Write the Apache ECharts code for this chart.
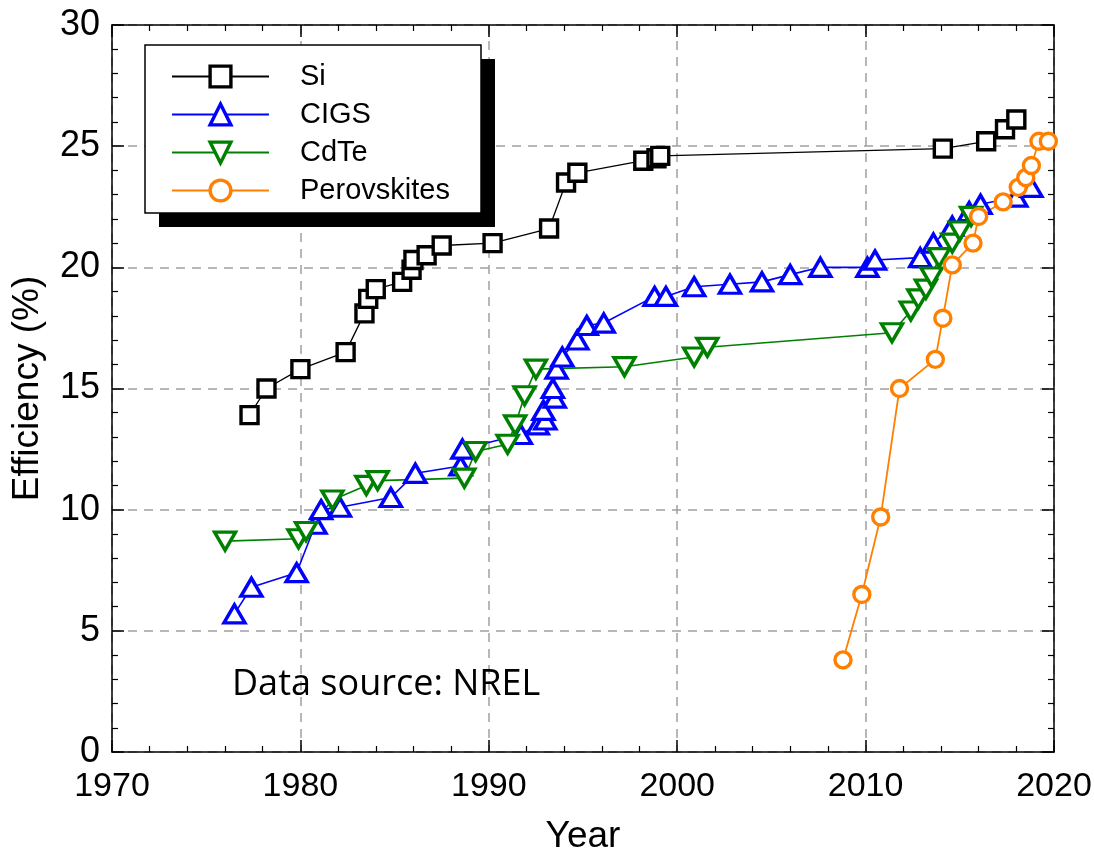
<!DOCTYPE html>
<html>
<head>
<meta charset="utf-8">
<script src="https://cdn.jsdelivr.net/npm/echarts@6/dist/echarts.min.js"></script>
<style>html,body{margin:0;padding:0;background:#fff}#c{width:1094px;height:852px}</style>
</head>
<body>
<div id="c"></div>
<script>
const seriesNames = ['Si', 'CIGS', 'CdTe', 'Perovskites'];
const siYear = [1977.3,1978.2,1980.0,1982.4,1983.4,1983.6,1984.0,1985.4,1985.9,1986.0,1986.7,1987.5,1990.2,1993.2,1994.1,1994.7,1998.2,1998.9,1999.1,2014.1,2016.4,2017.4,2018.0];
const siEff  = [13.9,15.0,15.8,16.5,18.1,18.7,19.1,19.4,19.9,20.3,20.5,20.9,21.0,21.6,23.5,23.9,24.4,24.5,24.6,24.9,25.2,25.7,26.1];
const cigsYear = [1976.5,1977.4,1979.8,1980.8,1981.1,1982.1,1984.8,1986.1,1988.5,1988.6,1991.7,1992.6,1993.0,1992.9,1993.5,1993.4,1993.6,1993.9,1994.7,1995.2,1996.1,1998.8,1999.4,2000.9,2002.8,2004.5,2006.0,2007.6,2010.1,2010.5,2012.9,2013.6,2014.6,2015.5,2016.1,2018.0,2018.8];
const cigsEff  = [5.7,6.8,7.4,9.4,10.0,10.1,10.5,11.5,11.8,12.5,13.1,13.5,13.7,14.1,14.6,15.0,15.8,16.3,17.0,17.6,17.7,18.8,18.8,19.2,19.3,19.4,19.7,20.0,20.0,20.3,20.4,21.0,21.7,22.3,22.6,22.9,23.3];
const cdteYear = [1976.0,1979.9,1980.3,1981.7,1983.5,1984.1,1988.7,1989.3,1991.0,1991.4,1991.9,1992.5,1997.2,2000.9,2001.6,2011.4,2012.4,2012.8,2013.2,2013.5,2013.9,2014.6,2015.0,2015.6];
const cdteEff  = [8.7,8.8,9.1,10.4,11.0,11.2,11.3,12.4,12.7,13.5,14.7,15.8,15.9,16.3,16.7,17.3,18.2,18.7,19.1,19.6,20.4,21.0,21.5,22.1];
const perYear = [2008.8,2009.8,2010.8,2011.8,2013.7,2014.1,2014.6,2015.7,2016.0,2017.3,2018.1,2018.5,2018.8,2019.2,2019.7];
const perEff  = [3.8,6.5,9.7,15.0,16.2,17.9,20.1,21.0,22.1,22.7,23.3,23.7,24.2,25.2,25.2];
const xTicks = [1970,1980,1990,2000,2010,2020];
const yTicks = [0,5,10,15,20,25,30];
const noteText = 'Data source: NREL';

const zip = (a, b) => a.map((v, i) => [v, b[i]]);
const colors = ['#000000', '#0000ff', '#008000', '#ff8000'];

function mkSeries(name, data, color, symbol, size, rotate, lw) {
  return {
    name, type: 'line', data, xAxisIndex: 0, yAxisIndex: 0,
    symbol, symbolSize: size, symbolRotate: rotate,
    showAllSymbol: true,
    itemStyle: { color: '#ffffff', borderColor: color, borderWidth: 3.4 },
    lineStyle: { color: color, width: lw },
    emphasis: { disabled: true },
    animation: false
  };
}

const labelFmt = v => String(v);
const frameLine = { show: true, onZero: false, lineStyle: { color: '#000', width: 1.5 } };
const split = { show: true, lineStyle: { color: '#a0a0a0', width: 1.5, type: [9, 7] } };
const majorTick = { show: true, inside: true, length: 12, lineStyle: { color: '#000', width: 1.5 } };
const minorTk = { show: true, splitNumber: 5, length: 6, lineStyle: { color: '#000', width: 1.2 } };

const chart = echarts.init(document.getElementById('c'), null, { renderer: 'canvas' });
chart.setOption({
  backgroundColor: '#fff',
  animation: false,
  grid: { left: 112, right: 40, top: 25, bottom: 100, containLabel: false, outerBoundsMode: 'none' },
  legend: {
    orient: 'vertical', left: 171, top: 62,
    data: seriesNames,
    itemWidth: 97, itemHeight: 26, itemGap: 9,
    padding: 0,
    itemStyle: { borderWidth: 3.4 },
    textStyle: { fontFamily: 'Liberation Sans', fontSize: 29, lineHeight: 26, color: '#000', padding: [0, 0, 0, 26] },
    selectedMode: false, z: 5
  },
  xAxis: [{
    type: 'value', min: xTicks[0], max: xTicks[xTicks.length - 1], interval: 10,
    name: 'Year', nameLocation: 'middle', nameGap: 66,
    nameTextStyle: { fontFamily: 'Liberation Sans', fontSize: 37, color: '#000' },
    axisLine: frameLine, axisTick: majorTick, minorTick: minorTk,
    axisLabel: { margin: 18, formatter: labelFmt, fontFamily: 'Liberation Sans', fontSize: 34, color: '#000' },
    splitLine: split
  }, {
    type: 'value', position: 'top', min: xTicks[0], max: xTicks[xTicks.length - 1], interval: 10,
    axisLine: frameLine, axisTick: majorTick, minorTick: minorTk,
    axisLabel: { show: false }, splitLine: { show: false }
  }],
  yAxis: [{
    type: 'value', min: yTicks[0], max: yTicks[yTicks.length - 1], interval: 5,
    name: 'Efficiency (%)', nameLocation: 'middle', nameGap: 66, nameRotate: 90,
    nameTextStyle: { fontFamily: 'Liberation Sans', fontSize: 37, color: '#000' },
    axisLine: frameLine, axisTick: majorTick, minorTick: minorTk,
    axisLabel: { margin: 12, formatter: labelFmt, fontFamily: 'Liberation Sans', fontSize: 36, color: '#000' },
    splitLine: split
  }, {
    type: 'value', position: 'right', min: yTicks[0], max: yTicks[yTicks.length - 1], interval: 5,
    axisLine: frameLine, axisTick: majorTick, minorTick: minorTk,
    axisLabel: { show: false }, splitLine: { show: false }
  }],
  graphic: [
    { type: 'rect', z: 3, silent: true, shape: { x: 159, y: 59, width: 336, height: 168 }, style: { fill: '#000' } },
    { type: 'rect', z: 3, silent: true, shape: { x: 145, y: 45, width: 336, height: 168 }, style: { fill: '#fff', stroke: '#000', lineWidth: 1.5 } },
    { type: 'text', z: 3, left: 232, top: 667, silent: true,
      style: { text: noteText, font: '36px "Open Sans"', fill: '#000' } }
  ],
  series: [
    mkSeries('Si', zip(siYear, siEff), colors[0], 'rect', 17, 0, 1.3),
    mkSeries('CIGS', zip(cigsYear, cigsEff), colors[1], 'triangle', [21, 18], 0, 1.6),
    mkSeries('CdTe', zip(cdteYear, cdteEff), colors[2], 'triangle', [21, 18], 180, 1.6),
    mkSeries('Perovskites', zip(perYear, perEff), colors[3], 'circle', 16, 0, 1.8)
  ]
});
</script>
</body>
</html>
